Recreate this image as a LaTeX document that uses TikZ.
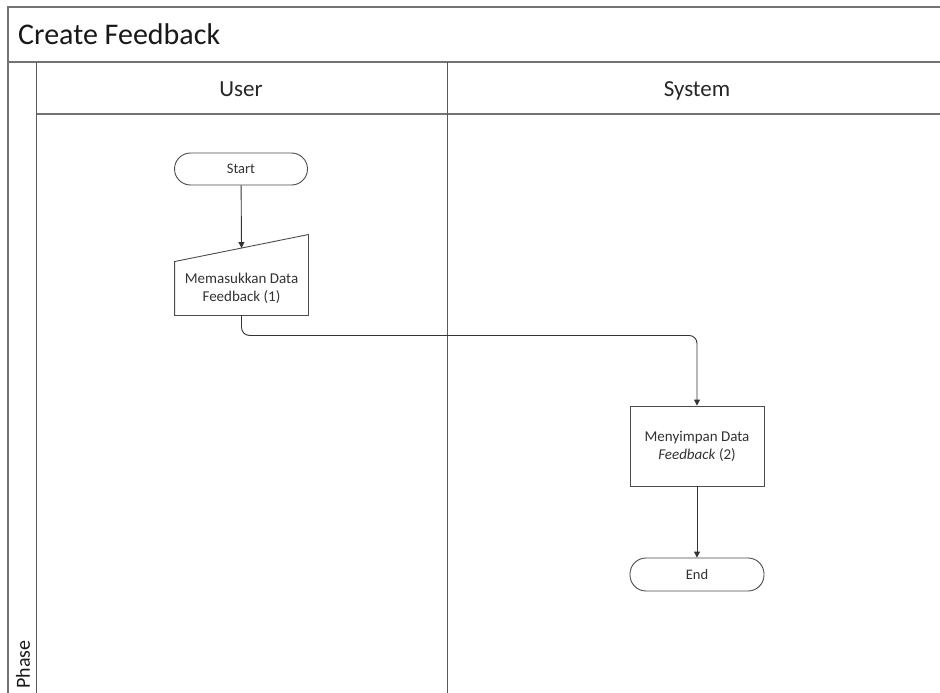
\documentclass[tikz,border=0pt]{standalone}
\usepackage{fontspec}
\setmainfont{Carlito}
\usetikzlibrary{arrows.meta,calc}
\begin{document}
\begin{tikzpicture}[x=1pt,y=-1pt,
  frame/.style={draw=black!55,line width=1.4pt},
  lane/.style={draw=black!65,line width=0.9pt},
  term/.style={draw=black!70,line width=0.9pt,rectangle,rounded corners=16pt,minimum width=133pt,minimum height=32pt,inner sep=0pt,font=\fontsize{14.5}{17}\selectfont,text=black!80},
  proc/.style={draw=black!70,line width=0.9pt,rectangle,minimum width=134pt,minimum height=80pt,inner sep=0pt,align=center,font=\fontsize{15}{18}\selectfont,text=black!80},
  flow/.style={draw=black!80,line width=0.9pt,-{Triangle[width=6pt,length=6pt]}},
  hdr/.style={font=\fontsize{23}{27}\selectfont,text=black!85,anchor=base}
]
\useasboundingbox (0,0) rectangle (940,693);
\fill[white] (0,0) rectangle (940,693);
% frame
\draw[frame] (940,7) -- (8,7) -- (8,693);
\draw[frame] (8,62) -- (940,62);
\draw[frame] (36,114) -- (940,114);
\draw[lane] (36,62) -- (36,693);
\draw[lane] (447,62) -- (447,693);
\node[font=\fontsize{30}{34}\selectfont,text=black!90,anchor=base west,inner sep=0pt] (title) at (18,45) {Create Feedback};
\node[hdr] (huser) at (241,96) {User};
\node[hdr] (hsys) at (697,96) {System};
\node[font=\fontsize{20}{24}\selectfont,text=black!90,rotate=90,anchor=west] (phase) at (23,692) {Phase};
% nodes
\node[term] (start) at (241,169) {Start};
\node[proc,draw=none,minimum width=133pt,minimum height=53pt] (mi) at (241.5,288.5) {Memasukkan Data\\Feedback (1)};
\draw[draw=black!70,line width=0.9pt] (mi.north west) -- ($(mi.north east)+(0,-27)$) -- (mi.south east) -- (mi.south west) -- cycle;
\coordinate (mitop) at ($(mi.north)+(0,-13.5)$);
\node[proc] (save) at (697,446) {Menyimpan Data\\\textit{Feedback} (2)};
\node[term,minimum width=134pt,minimum height=33pt] (end) at (697,574.5) {End};
% connectors
\draw[flow] (start) -- (mitop);
\draw[flow,rounded corners=8pt] (mi.south) -- ++(0,20) -| (save.north);
\draw[flow] (save) -- (end);
\end{tikzpicture}
\end{document}
